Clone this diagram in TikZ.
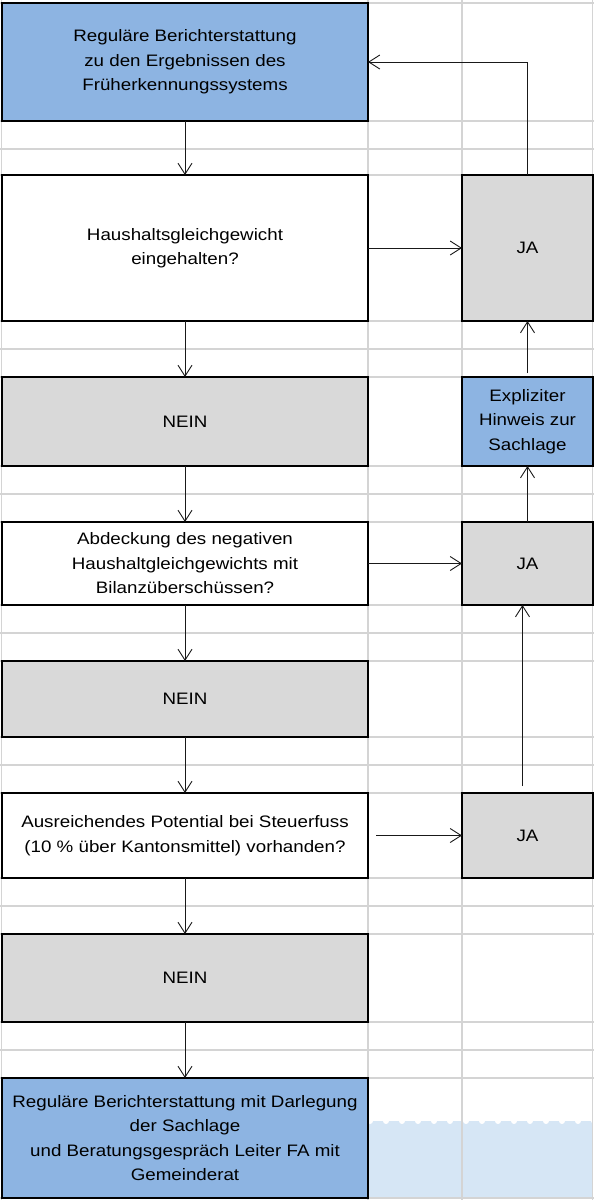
\documentclass[tikz,border=0pt]{standalone}
\usepackage{fontspec}
\setmainfont[FakeStretch=1.13]{Liberation Sans}
\usepackage{xcolor}
\usepackage{tikz}
\usetikzlibrary{positioning}
\usetikzlibrary{arrows.meta}
\tikzstyle{line} = [draw, line width=0.9pt, color=black!90, -{Straight Barb[length=11pt,width=14pt]}]
\definecolor{myblue}{RGB}{141,180,226}
\definecolor{mygrey}{RGB}{217,217,217}
\definecolor{mywave}{RGB}{214,230,245}
\definecolor{mygrid}{RGB}{212,212,212}

\begin{document}
\begin{tikzpicture}[x=1pt,y=-1pt,node distance=56pt,outer sep=0pt,
whiteb/.style={
  draw=black,
  line width=1.2pt,
  fill=white,
  minimum width=366pt,
  inner sep=0pt,
  font={\fontsize{16.6pt}{24.5pt}\selectfont},
  align=center},
blueb/.style={whiteb,fill=myblue},
greyb/.style={whiteb,fill=mygrey},
jab/.style={greyb,minimum width=131pt},
]
\useasboundingbox (0,0) rectangle (594,1200);

% wave in the empty cells
\begin{scope}
\clip (369,1121) rectangle (592,1197);
\fill[mywave] (369,1121) rectangle (592,1197);
\foreach \x in {370,386,...,594}
  \fill[white] (\x,1121) circle (3);
\end{scope}

% grid
\foreach \y in {3,121,149,175,321,349,377,466,494,522,605,633,661,737,765,793,878,906,934,1022,1050,1078,1198}
  \draw[mygrid, line width=1.2pt] (0,\y) -- (594,\y);
\foreach \x in {1.5,368,462,592.5}
  \draw[mygrid, line width=1.2pt] (\x,0) -- (\x,1200);

% left column
\node[blueb, minimum height=118pt, anchor=north west] (top) at (2,3)
  {Reguläre Berichterstattung\\zu den Ergebnissen des\\Früherkennungssystems};
\node[whiteb, minimum height=146pt, below=54pt of top] (hh)
  {Haushaltsgleichgewicht\\eingehalten?};
\node[greyb, minimum height=89pt, below=of hh] (nein1) {NEIN};
\node[whiteb, minimum height=83pt, below=of nein1] (abd)
  {Abdeckung des negativen\\Haushaltgleichgewichts mit\\Bilanzüberschüssen?};
\node[greyb, minimum height=76pt, below=of abd] (nein2) {NEIN};
\node[whiteb, minimum height=85pt, below=of nein2] (pot)
  {Ausreichendes Potential bei Steuerfuss\\(10 \% über Kantonsmittel) vorhanden?};
\node[greyb, minimum height=88pt, below=of pot] (nein3) {NEIN};
\node[blueb, minimum height=120pt, below=of nein3] (report)
  {Reguläre Berichterstattung mit Darlegung\\der Sachlage\\und Beratungsgespräch Leiter FA mit\\Gemeinderat};

% right column
\node[jab, minimum height=146pt, right=94pt of hh] (ja1) {JA};
\node[jab, fill=myblue, minimum height=89pt, right=94pt of nein1] (hint)
  {Expliziter\\Hinweis zur\\Sachlage};
\node[jab, minimum height=83pt, right=94pt of abd] (ja2) {JA};
\node[jab, minimum height=85pt, right=94pt of pot] (ja3) {JA};

\path [line] (top.south) -- (hh.north);
\path [line] (hh.east) -- (ja1.west);
\path [line] (ja1.north) |- (top.east);
\path [line] (hh.south) -- (nein1.north);
\path [line] (nein1.south) -- (abd.north);
\path [line] (abd.east) -- (ja2.west);
\path [line] (ja2.north) -- (hint.south);
\path [line, shorten <=4pt] (hint.north) -- (ja1.south);
\path [line] (abd.south) -- (nein2.north);
\path [line] (nein2.south) -- (pot.north);
\path [line, shorten <=8pt] (pot.east) -- (ja3.west);
\path [line, shorten <=7pt] ([xshift=-5pt]ja3.north) -- ([xshift=-5pt]ja2.south);
\path [line] (pot.south) -- (nein3.north);
\path [line] (nein3.south) -- (report.north);
\end{tikzpicture}
\end{document}
